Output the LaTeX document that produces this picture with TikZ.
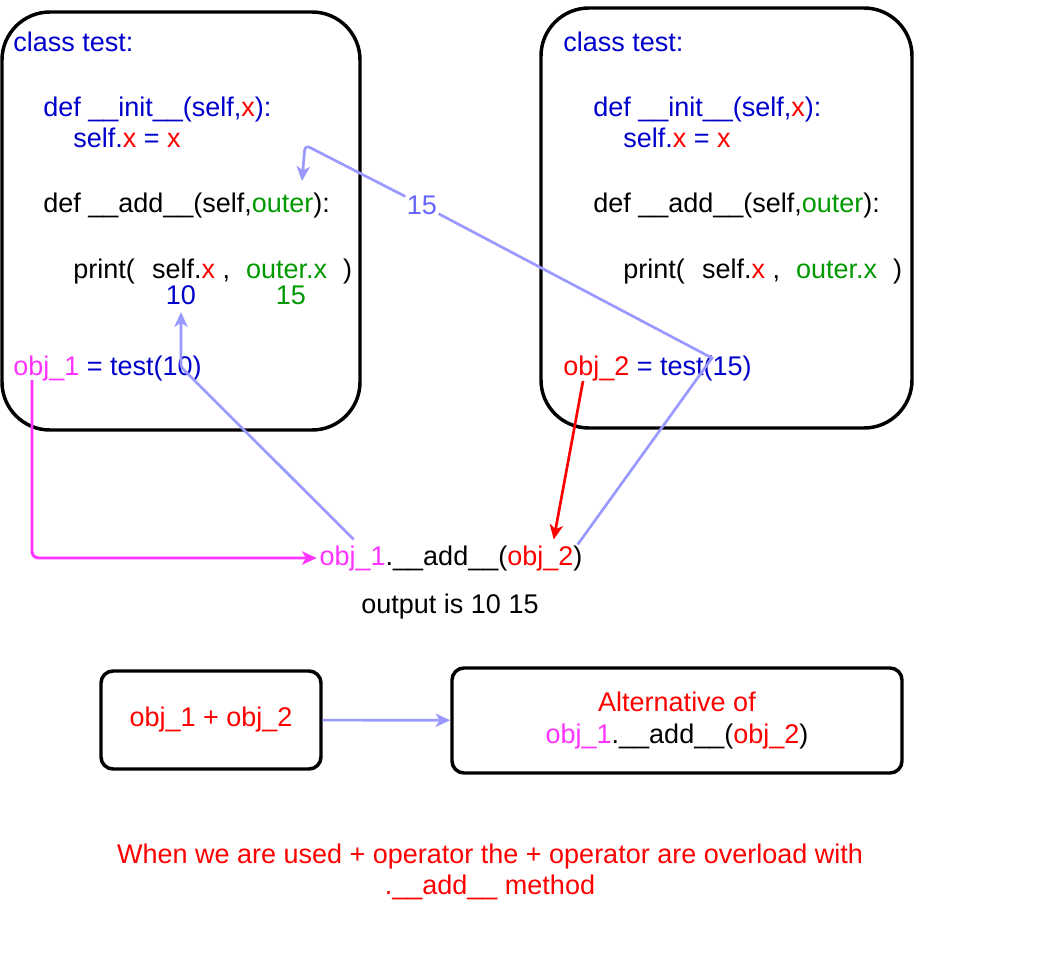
\documentclass[tikz,border=0pt]{standalone}
\usepackage{fontspec}
\setmainfont{Liberation Sans}
\usetikzlibrary{positioning, arrows.meta, calc}

\definecolor{codeblue}{RGB}{0,0,204}
\definecolor{codered}{RGB}{255,0,0}
\definecolor{codegreen}{RGB}{0,153,0}
\definecolor{objpink}{RGB}{255,51,255}
\definecolor{linkblue}{RGB}{153,153,255}
\definecolor{numblue}{RGB}{102,102,255}

\newcommand{\dunder}{\_\_}

\begin{document}
\begin{tikzpicture}[
    x=0.75pt, y=-0.75pt,
    >=Stealth,
    % Styles
    every node/.style={
        font=\fontsize{20.25}{24}\selectfont
    },
    codebox/.style={
        rectangle,
        draw,
        line width=2.6pt,
        rounded corners=36pt
    },
    notebox/.style={
        rectangle,
        draw,
        line width=2.6pt,
        rounded corners=9pt,
        align=center
    },
    codeline/.style={
        anchor=base west,
        inner sep=0pt
    },
    link/.style={
        -{Stealth[length=11pt, width=10pt, inset=3pt]},
        draw=linkblue,
        line width=2pt
    },
    objlink/.style={
        -{Stealth[length=11pt, width=10pt, inset=3pt]},
        draw=objpink,
        line width=2.2pt,
        rounded corners=5pt
    },
    objarrow/.style={
        -{Stealth[length=11pt, width=10pt, inset=3pt]},
        draw=codered,
        line width=2pt
    }
]
    \useasboundingbox (0,0) rectangle (1043,963);

    % Boxes
    \node[codebox, minimum width=268.5pt, minimum height=313.5pt] (lbox) at (181,221) {};
    \node[codebox, minimum width=278.25pt, minimum height=315pt] (rbox) at (726.5,218) {};

    % Left class
    \node[codeline, text=codeblue] (lclass) at (13,52) {class test:};
    \node[codeline, text=codeblue] (linit) at (43,117) {def \dunder init\dunder(self,\textcolor{codered}{x}):};
    \node[codeline, text=codeblue] (lself) at (73,148) {self.\textcolor{codered}{x} = \textcolor{codered}{x}};
    \node[codeline] (ladd) at (43,213) {def \dunder add\dunder(self,\textcolor{codegreen}{outer}):};
    \node[codeline] (lprint) at (73,278) {print(\hspace{13pt}self.\textcolor{codered}{x} ,\hspace{12pt}\textcolor{codegreen}{outer.x}\hspace{12pt})};
    \node[anchor=base, inner sep=5pt, text=codeblue] (ten) at (181,305) {10};
    \node[anchor=base, text=codegreen] (lfifteen) at (291,305) {15};
    \node[codeline, text=codeblue] (lobj) at (13,375) {\textcolor{objpink}{obj\_1} = test(10)};

    % Right class
    \node[codeline, text=codeblue] (rclass) at (563,52) {class test:};
    \node[codeline, text=codeblue] (rinit) at (593,117) {def \dunder init\dunder(self,\textcolor{codered}{x}):};
    \node[codeline, text=codeblue] (rself) at (623,148) {self.\textcolor{codered}{x} = \textcolor{codered}{x}};
    \node[codeline] (radd) at (593,213) {def \dunder add\dunder(self,\textcolor{codegreen}{outer}):};
    \node[codeline] (rprint) at (623,278) {print(\hspace{13pt}self.\textcolor{codered}{x} ,\hspace{12pt}\textcolor{codegreen}{outer.x}\hspace{12pt})};
    \node[codeline, text=codeblue] (robj) at (563,375) {\textcolor{codered}{obj\_2} = test(15)};

    % Call and result
    \node[anchor=base, inner sep=2pt] (call) at (451,565) {\textcolor{objpink}{obj\_1}.\dunder add\dunder(\textcolor{codered}{obj\_2})};
    \node[anchor=base] (output) at (450,613) {output is 10 15};

    \node[notebox, minimum width=165pt, minimum height=73.5pt, text=codered] (plusbox) at (211,720) {obj\_1 + obj\_2};
    \node[notebox, minimum width=337.5pt, minimum height=78.75pt, text=codered] (altbox) at (677,720.5) {Alternative of\\\textcolor{objpink}{obj\_1}\textcolor{black}{.\dunder add\dunder(}obj\_2\textcolor{black}{)}};

    \node[align=center, text=codered, font=\fontsize{20.25}{23.25}\selectfont] (note) at (490,872) {When we are used + operator the + operator are overload with\\.\dunder add\dunder{} method};

    % Bends
    \coordinate (objonefoot) at (32,380);
    \coordinate (objtwofoot) at (583,381);
    \coordinate (tenbend) at (181,367);
    \coordinate (fifteenbend) at (712,358);
    \coordinate (outerbend) at (305,145);
    \coordinate (outertip) at (302,181);
    \node[inner sep=1pt, fill=white, text=numblue] (fifteen) at (422,205) {15};

    % Paths
    \draw[objlink] (objonefoot) |- (call.west);
    \draw[link, rounded corners=2pt] ($(call.north west)+(37,-3)$) -- (tenbend) -- (ten.south);
    \draw[objarrow] (objtwofoot) -- ($(call.north west)+(237,-3)$);
    \draw[link, -] ($(call.north west)+(261,2)$) -- (fifteenbend) -- (fifteen);
    \draw[link, rounded corners=4pt] (fifteen) -- (outerbend) -- (outertip);
    \draw[link] (plusbox) -- (altbox);
\end{tikzpicture}
\end{document}
